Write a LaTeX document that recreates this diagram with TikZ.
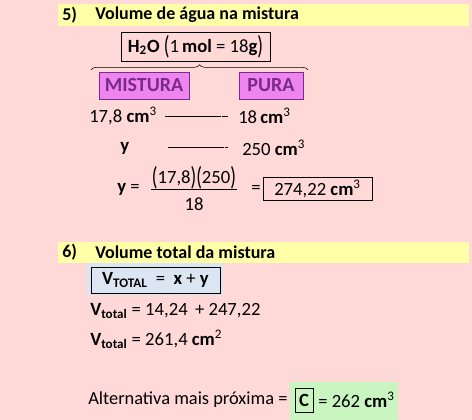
\documentclass[tikz,border=0pt]{standalone}
\usepackage{amsmath}
\usepackage{graphicx}
\usepackage{fontspec}
\setmainfont{Carlito}
\usepackage{xcolor}
\usepackage{tikz}
\usetikzlibrary{decorations.pathreplacing,positioning}
\definecolor{bgpink}{HTML}{FFD8D8}
\definecolor{hlyellow}{HTML}{FFFFA8}
\definecolor{boxviolet}{HTML}{EE85EE}
\definecolor{txtpurple}{HTML}{7A2A8C}
\definecolor{hlblue}{HTML}{DCE6F2}
\definecolor{hlgreen}{HTML}{C8F5C0}
\newcommand{\ccm}[1]{\textbf{cm}\textsuperscript{#1}}
\newcommand{\tallp}[1]{\raisebox{-0.25ex}{\scalebox{1}[1.4]{#1}}}

\begin{document}
\begin{tikzpicture}[x=0.75pt,y=-0.75pt,
              every node/.style={font=\fontsize{14}{17}\selectfont, inner sep=0pt},
              head/.style={font=\fontsize{13.5}{16}\selectfont\bfseries, anchor=west},
              txt/.style={anchor=west},
              frame/.style={draw=black, thin},
              tagbox/.style={draw=txtpurple, fill=boxviolet, text=txtpurple,
                font=\fontsize{15}{18}\selectfont\bfseries, minimum height=20.25pt},
              mydash/.style={line width=0.7pt, black, dash pattern=on 5pt off 0.3pt},
             ]
% background
\fill[bgpink] (0,0) rectangle (472,420);
\useasboundingbox (0,0) rectangle (472,420);

% item 5
\fill[hlyellow] (58,4) rectangle (469,26);
\node[head] (n5) at (62,15) {5)};
\node[head] (t5) at (95,15) {Volume de água na mistura};
\node[frame, minimum width=112pt, minimum height=21.75pt] (h2o) at (195.5,46.5)
  {\textbf{H\textsubscript{2}O} \tallp{(}1\,\textbf{mol} = 18\textbf{g}\tallp{)}};
\draw[decorate, decoration={brace, amplitude=4pt}, thin] (91,70) -- (308,70);
\node[tagbox, minimum width=67.5pt] (mist) at (144,85.5) {MISTURA};
\node[tagbox, minimum width=48pt] (pura) at (271,85.5) {PURA};

% regra de tres
\node[txt] (r1a) at (89,116) {17,8 \ccm{3}};
\node[txt] (r1b) at (238,116) {18\,\ccm{3}};
\node[txt] (r2a) at (120,148) {\textbf{y}};
\node[txt] (r2b) at (242,148) {250 \ccm{3}};
\coordinate (d1) at (165,116);
\coordinate (d2) at (228,116);
\coordinate (d3) at (168,147);
\coordinate (d4) at (228,147);
\draw[mydash] (d1) -- (d2);
\draw[mydash] (d3) -- (d4);

\node[txt] (yeq) at (117,189) {\textbf{y} =};
\node (num) at (194,178) {\tallp{(}17,8\tallp{)}\tallp{(}250\tallp{)}};
\node (den) at (194,204) {18};
\draw[thin] (151,189) -- (237,189);
\node (eq1) at (256,189) {=};
\node[frame, minimum width=82pt, minimum height=17.25pt] (res) at (317.5,188.5)
  {274,22 \ccm{3}};

% item 6
\fill[hlyellow] (58,242) rectangle (469,263);
\node[head] (n6) at (62,252.5) {6)};
\node[head] (t6) at (95,252.5) {Volume total da mistura};
\fill[hlblue] (87,263) rectangle (223,295);
\node[frame, minimum width=96.75pt, minimum height=19.5pt] (vtot) at (155.5,280)
  {\textbf{V\textsubscript{TOTAL}} \ = \ \textbf{x} + \textbf{y}};
\node[txt] (s1) at (90,311) {\textbf{V\textsubscript{total}} = 14,24 \,+ 247,22};
\node[txt] (s2) at (90,339) {\textbf{V\textsubscript{total}} = 261,4 \ccm{2}};

% resposta
\node[txt, font=\fontsize{13.8}{16}\selectfont] (alt) at (88,400) {Alternativa mais próxima =};
\fill[hlgreen] (290,382) rectangle (398,420);
\node[frame, minimum width=13.5pt, minimum height=18pt, font=\fontsize{14}{17}\selectfont\bfseries] (optc) at (304,400) {C};
\node[txt] (ans) at (318,400) {= 262 \ccm{3}};
\end{tikzpicture}
\end{document}
